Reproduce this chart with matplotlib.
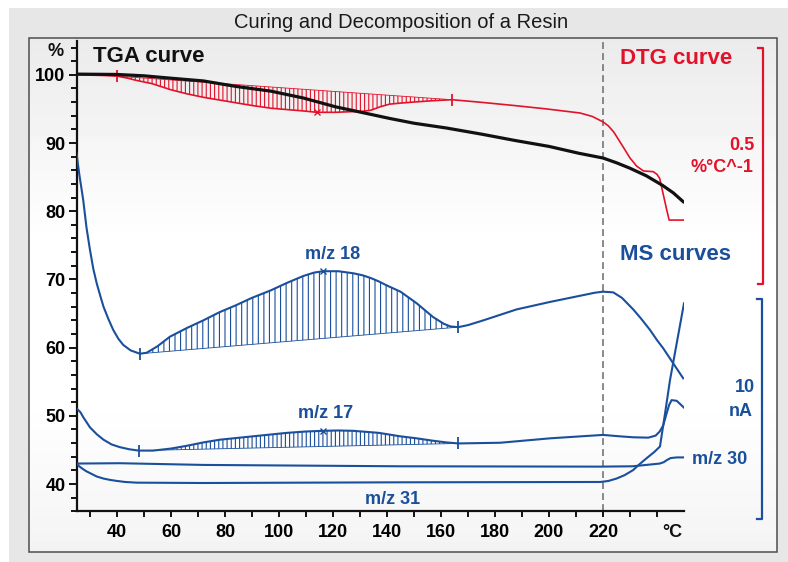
import numpy as np
import matplotlib
matplotlib.use('Agg')
import matplotlib.pyplot as plt
import matplotlib.transforms as mtrans
from matplotlib.patches import Rectangle

plt.rcParams['font.family'] = ['Liberation Sans', 'DejaVu Sans']
plt.rcParams['hatch.linewidth'] = 0.8

RED = '#e3122b'
BLUE = '#1a4f9c'
BLACK = '#111111'

# --- data (temperature in °C, value on left scale) ---
tga_t = [25, 40, 50, 60, 72, 84, 97, 109, 121, 134, 141, 150, 162, 175, 187,
         200, 211, 220, 225, 230, 236, 242, 246, 249.7]
tga_y = [100.1, 100.05, 99.85, 99.5, 99.1, 98.3, 97.6, 96.6, 95.3, 94.2, 93.6,
         92.9, 92.2, 91.3, 90.4, 89.5, 88.5, 87.8, 87.1, 86.3, 85.2, 83.8, 82.7, 81.4]

dtg_t = [25, 35, 40, 44, 47, 53, 60, 66, 72, 78, 84, 90, 97, 103, 109, 114, 121,
         127, 131, 134, 137.4, 141, 145, 149.7, 157, 164, 174, 187, 199, 211.5,
         216, 220, 222, 224, 227.5, 230, 232.5, 235, 238.6, 240, 241, 243.6, 244.5, 250]
dtg_y = [100.0, 99.9, 99.8, 99.5, 99.2, 98.7, 97.8, 97.2, 96.7, 96.3, 95.9, 95.5,
         95.1, 94.9, 94.7, 94.5, 94.5, 94.6, 94.65, 94.8, 95.3, 95.7, 95.85, 96.0,
         96.2, 96.35, 96.0, 95.5, 95.0, 94.4, 93.9, 93.1, 92.5, 91.6, 89.4, 87.8,
         86.6, 85.9, 85.8, 85.4, 84.8, 80.2, 78.7, 78.7]
dtg_base_t = [40, 164]
dtg_base_y = [99.8, 96.35]
dtg_peak = (114, 94.5)

mz18_t = [25, 26, 27.5, 28.7, 30, 31.2, 32.5, 33.8, 35, 36.8, 38.6, 40.5, 42.3,
          45, 48.5, 51, 55, 59.6, 66, 72, 78, 84, 90, 97, 103, 109, 113, 116.4,
          122, 127.5, 131, 134, 137, 140, 145, 151, 157, 161, 163.5, 166.4, 170,
          175.7, 188, 200.4, 212.7, 217, 220, 223.8, 227, 231.2, 234, 237.4, 240,
          242.3, 246, 249.7]
mz18_y = [88.5, 85.5, 81.6, 77.6, 74.3, 71.6, 69.4, 67.6, 66.0, 64.2, 62.6, 61.3,
          60.4, 59.6, 59.1, 59.25, 60.2, 61.6, 62.9, 64.0, 65.2, 66.2, 67.3, 68.4,
          69.5, 70.5, 71.0, 71.2, 71.2, 70.9, 70.6, 70.2, 69.7, 69.1, 68.2, 66.5,
          64.5, 63.5, 63.1, 63.0, 63.3, 64.0, 65.6, 66.7, 67.7, 68.05, 68.2, 68.1,
          67.3, 65.6, 64.3, 62.6, 61.1, 59.9, 57.7, 55.5]
mz18_base_t = [48.5, 166.4]
mz18_base_y = [59.1, 63.0]
mz18_peak = (116.4, 71.2)

mz17_t = [25, 26.5, 27.5, 29, 30, 32.5, 35, 38, 41.1, 44.5, 48, 53.4, 60, 65.8,
          72, 78.1, 90.5, 102.9, 110, 116.4, 122, 127.5, 137, 144.8, 151, 157,
          162, 166.4, 181.9, 200.4, 220, 226, 231.2, 236.8, 239.5, 241, 242.3,
          243.6, 244.5, 245.4, 247.3, 250]
mz17_y = [51.1, 50.5, 49.8, 48.9, 48.3, 47.3, 46.5, 45.8, 45.4, 45.1, 44.9, 44.9,
          45.2, 45.6, 46.1, 46.5, 47.0, 47.5, 47.7, 47.8, 47.85, 47.8, 47.5, 47.0,
          46.7, 46.35, 46.1, 45.95, 46.05, 46.7, 47.2, 47.0, 46.85, 46.8, 47.1,
          47.7, 48.6, 50.4, 51.6, 52.3, 52.2, 51.2]
mz17_base_t = [48, 166.4]
mz17_base_y = [44.9, 45.95]
mz17_peak = (116.4, 47.8)

mz30_t = [25, 41, 72, 145, 219, 231, 241, 242.5, 243.6, 245, 247.3, 250]
mz30_y = [43.0, 43.05, 42.8, 42.6, 42.55, 42.6, 43.0, 43.2, 43.5, 43.8, 43.9, 43.9]

mz31_t = [25, 26, 27, 28.5, 30, 32.5, 35, 37.5, 40, 43, 47.3, 72, 145, 219, 222,
          225, 228, 231.2, 233.5, 236.2, 239, 241.1, 243, 244.8, 250]
mz31_y = [43.0, 42.6, 42.3, 41.9, 41.6, 41.1, 40.8, 40.6, 40.45, 40.3, 40.2,
          40.15, 40.25, 40.3, 40.45, 40.8, 41.3, 42.05, 42.9, 43.8, 44.7, 45.5,
          50.4, 55.2, 66.5]

x_major = list(range(40, 221, 20))
x_minor = list(range(30, 241, 10))
y_major = list(range(40, 101, 10))
y_minor = list(range(36, 105, 2))

W, H = 788, 562
fig = plt.figure(figsize=(W / 100, H / 100), dpi=100)
fig.patch.set_facecolor('white')

# background panel (pixel coordinates)
bg = fig.add_axes([0, 0, 1, 1])
bg.axis('off')
bg.add_patch(Rectangle((9, 8), W - 9, H - 8, facecolor='#e7e7e7', edgecolor='none'))
grad = np.concatenate([np.linspace(0.92, 1.0, 40), np.ones(30), np.linspace(1.0, 0.955, 30)])
bg.imshow(grad[:, None], cmap='gray', vmin=0, vmax=1, aspect='auto',
          extent=[29, 777, 551.7, 37.7], zorder=1)
bg.add_patch(Rectangle((29, 37.7), 748, 514, facecolor='none', edgecolor='#4d4d4d',
                       linewidth=1.1, zorder=2))

# scale brackets
bg.plot([758, 763.3, 763.3, 758], [47.7, 47.7, 284, 284], color=RED, lw=1.6, zorder=3)
bg.plot([757, 762, 762, 757], [299, 299, 519.3, 519.3], color=BLUE, lw=1.6, zorder=3)
bg.set_xlim(0, W)
bg.set_ylim(H, 0)

fig.text(401 / W, 1 - 22 / H, 'Curing and Decomposition of a Resin', ha='center',
         va='center', fontsize=14.5, color='#1a1a1a')

ax = fig.add_axes([76.5 / W, 1 - 511.3 / H, 607.5 / W, 470.6 / H])
ax.set_facecolor('none')
ax.set_xlim(25, 250)
ax.set_ylim(36, 105)
for s in ['top', 'right']:
    ax.spines[s].set_visible(False)
for s in ['left', 'bottom']:
    ax.spines[s].set_linewidth(1.6)
    ax.spines[s].set_color(BLACK)

ax.set_xticks(x_major)
ax.set_xticks(x_minor, minor=True)
ax.set_yticks(y_major)
ax.set_yticks(y_minor, minor=True)
ax.set_xticklabels([str(v) for v in x_major], fontweight='bold', fontsize=13)
ax.set_yticklabels([str(v) for v in y_major], fontweight='bold', fontsize=13)
ax.tick_params(axis='x', which='both', length=4.5, width=1.4, pad=5, color=BLACK)
ax.tick_params(axis='y', which='major', length=6, width=1.4, pad=2, color=BLACK)
ax.tick_params(axis='y', which='minor', length=4, width=1.4, color=BLACK)

ax.axvline(220, color='#6a6a6a', lw=1.1, dashes=(4.5, 2.7), zorder=1)


def hatch_area(t, y, base_t, base_y, color, hatch):
    t = np.asarray(t, float)
    y = np.asarray(y, float)
    m = (t >= base_t[0]) & (t <= base_t[1])
    tt = t[m]
    bb = np.interp(tt, base_t, base_y)
    ax.fill_between(tt, y[m], bb, facecolor='none', edgecolor=color, hatch=hatch,
                    linewidth=0, zorder=2)
    ax.plot(base_t, base_y, color=color, lw=0.6, zorder=2)
    ax.plot(base_t, base_y, ls='none', marker='|', ms=8, mew=1.3, color=color, zorder=3)


hatch_area(dtg_t, dtg_y, dtg_base_t, dtg_base_y, RED, '||||')
hatch_area(mz18_t, mz18_y, mz18_base_t, mz18_base_y, BLUE, '|||')
hatch_area(mz17_t, mz17_y, mz17_base_t, mz17_base_y, BLUE, '||||')

ax.plot(dtg_t, dtg_y, color=RED, lw=1.2, zorder=3)
ax.plot(mz18_t, mz18_y, color=BLUE, lw=1.5, zorder=3)
ax.plot(mz17_t, mz17_y, color=BLUE, lw=1.5, zorder=3)
ax.plot(mz30_t, mz30_y, color=BLUE, lw=1.5, zorder=3)
ax.plot(mz31_t, mz31_y, color=BLUE, lw=1.5, zorder=3)
ax.plot(tga_t, tga_y, color=BLACK, lw=2.3, zorder=4)

for (px, py), c in [(dtg_peak, RED), (mz18_peak, BLUE), (mz17_peak, BLUE)]:
    ax.plot([px], [py], marker='x', ms=5, mew=1.0, color=c, zorder=5)

# curve labels
ax.text(120, 73.6, 'm/z 18', color=BLUE, fontsize=13, fontweight='bold', ha='center', va='center')
ax.text(117.4, 50.4, 'm/z 17', color=BLUE, fontsize=13, fontweight='bold', ha='center', va='center')
ax.text(141.9, 37.7, 'm/z 31', color=BLUE, fontsize=13, fontweight='bold', ha='center', va='center')
ax.text(253, 43.6, 'm/z 30', color=BLUE, fontsize=13, fontweight='bold', ha='left', va='center',
        clip_on=False)

yax = mtrans.blended_transform_factory(ax.transAxes, ax.transData)
ax.text(-0.021, 103.4, '%', transform=yax, ha='right', va='center', fontsize=13,
        fontweight='bold', color=BLACK)
xax = mtrans.blended_transform_factory(ax.transData, ax.transAxes)
ax.text(245.8, -0.046, '°C', transform=xax, ha='center', va='center', fontsize=13,
        fontweight='bold', color=BLACK)

fig.text(93 / W, 1 - 57 / H, 'TGA curve', ha='left', va='center', fontsize=16,
         fontweight='bold', color=BLACK)
fig.text(620 / W, 1 - 58 / H, 'DTG curve', ha='left', va='center', fontsize=16,
         fontweight='bold', color=RED)
fig.text(620 / W, 1 - 255 / H, 'MS curves', ha='left', va='center', fontsize=16,
         fontweight='bold', color=BLUE)
fig.text(754 / W, 1 - 145 / H, '0.5', ha='right', va='center', fontsize=13,
         fontweight='bold', color=RED)
fig.text(753 / W, 1 - 167 / H, '%°C^-1', ha='right', va='center', fontsize=13,
         fontweight='bold', color=RED)
fig.text(755 / W, 1 - 388 / H, '10', ha='right', va='center', fontsize=13,
         fontweight='bold', color=BLUE)
fig.text(753 / W, 1 - 412 / H, 'nA', ha='right', va='center', fontsize=13,
         fontweight='bold', color=BLUE)

fig.savefig('out.png', dpi=100)
